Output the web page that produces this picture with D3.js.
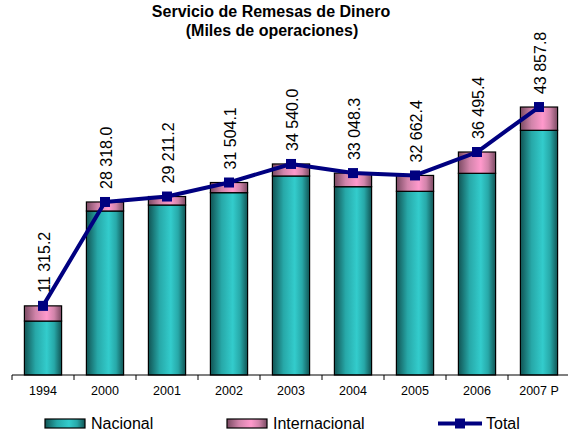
<!DOCTYPE html>
<html>
<head>
<meta charset="utf-8">
<script src="https://cdn.jsdelivr.net/npm/d3@7"></script>
<style>
  html, body { margin: 0; padding: 0; background: #fff; }
  svg { display: block; font-family: Arial, "Liberation Sans", sans-serif; }
</style>
</head>
<body>
<svg id="chart" width="569" height="431"></svg>
<script>
// Remesas de dinero, miles de operaciones
const years = ["1994", "2000", "2001", "2002", "2003", "2004", "2005", "2006", "2007 P"];
const nacional = [8830, 26840, 27820, 29840, 32570, 30820, 30065, 33010, 40049];
const internacional = [2485.2, 1478.0, 1391.2, 1664.1, 1970.0, 2228.3, 2597.4, 3485.4, 3808.8];
const total = [11315.2, 28318.0, 29211.2, 31504.1, 34540.0, 33048.3, 32662.4, 36495.4, 43857.8];
const totalLabels = ["11 315.2", "28 318.0", "29 211.2", "31 504.1", "34 540.0", "33 048.3", "32 662.4", "36 495.4", "43 857.8"];

const svg = d3.select("#chart");
const left = 12, right = 570, baseY = 375, topY = 69.5;

const x = d3.scaleBand().domain(years).range([left, right]).paddingInner(0.4).paddingOuter(0.2);
const xb = d3.scaleBand().domain(years).range([left, right]);
const y = d3.scaleLinear().domain([0, 50000]).range([baseY, topY]);

// horizontal shading for the cylinder-like bars
const defs = svg.append("defs");
function shade(id, dark, mid, light) {
  const g = defs.append("linearGradient").attr("id", id).attr("x1", "0").attr("x2", "1").attr("y1", "0").attr("y2", "0");
  g.append("stop").attr("offset", "0%").attr("stop-color", dark);
  g.append("stop").attr("offset", "30%").attr("stop-color", mid);
  g.append("stop").attr("offset", "60%").attr("stop-color", light);
  g.append("stop").attr("offset", "80%").attr("stop-color", mid);
  g.append("stop").attr("offset", "100%").attr("stop-color", dark);
}
shade("gNac", "#115454", "#27a8a8", "#33cccc");
shade("gInt", "#7a4a62", "#d184aa", "#ff99cc");

const stacked = years.map((yr, i) => ({ yr, nac: nacional[i], int: internacional[i] }));

// title
svg.append("text").attr("x", 271).attr("y", 17).attr("text-anchor", "middle")
  .attr("font-size", 16).attr("font-weight", "bold").text("Servicio de Remesas de Dinero");
svg.append("text").attr("x", 272).attr("y", 36).attr("text-anchor", "middle")
  .attr("font-size", 16).attr("font-weight", "bold").text("(Miles de operaciones)");

// bars
const bars = svg.append("g");
bars.selectAll("rect.nac").data(stacked).join("rect")
  .attr("class", "nac")
  .attr("x", d => x(d.yr)).attr("width", x.bandwidth())
  .attr("y", d => y(d.nac)).attr("height", d => y(0) - y(d.nac))
  .attr("fill", "url(#gNac)").attr("stroke", "#000").attr("stroke-width", 1.2);
bars.selectAll("rect.int").data(stacked).join("rect")
  .attr("class", "int")
  .attr("x", d => x(d.yr)).attr("width", x.bandwidth())
  .attr("y", d => y(d.nac + d.int)).attr("height", d => y(d.nac) - y(d.nac + d.int))
  .attr("fill", "url(#gInt)").attr("stroke", "#000").attr("stroke-width", 1.2);

// category axis
const axis = svg.append("g").attr("transform", `translate(0,${baseY})`);
axis.append("line").attr("x1", left).attr("x2", 568).attr("y1", 0).attr("y2", 0)
  .attr("stroke", "#000").attr("stroke-width", 1);
axis.selectAll("line.tick").data(years).join("line").attr("class", "tick")
  .attr("x1", d => xb(d)).attr("x2", d => xb(d)).attr("y1", 0).attr("y2", 5)
  .attr("stroke", "#000");
axis.selectAll("text").data(years).join("text")
  .attr("x", d => xb(d) + xb.bandwidth() / 2).attr("y", 20)
  .attr("text-anchor", "middle").attr("font-size", 12.5).text(d => d);

// total line
const cx = d => x(d) + x.bandwidth() / 2;
const line = d3.line().x((d, i) => cx(years[i])).y(d => y(d));
svg.append("path").datum(total).attr("d", line)
  .attr("fill", "none").attr("stroke", "#000080").attr("stroke-width", 4).attr("stroke-linejoin", "round");
svg.selectAll("rect.mk").data(total).join("rect").attr("class", "mk")
  .attr("x", (d, i) => cx(years[i]) - 5).attr("y", d => y(d) - 5)
  .attr("width", 10).attr("height", 10).attr("fill", "#000080");

// value labels
svg.selectAll("text.val").data(total).join("text").attr("class", "val")
  .attr("transform", (d, i) => `translate(${cx(years[i]) + 7},${y(d) - 13}) rotate(-90)`)
  .attr("font-size", 16).attr("text-anchor", "start")
  .text((d, i) => totalLabels[i]);

// legend
const lg = svg.append("g");
lg.append("rect").attr("x", 45).attr("y", 419).attr("width", 40).attr("height", 9)
  .attr("fill", "url(#gNac)").attr("stroke", "#000").attr("stroke-width", 1.2);
lg.append("text").attr("x", 91).attr("y", 429).attr("font-size", 16).text("Nacional");
lg.append("rect").attr("x", 227).attr("y", 419).attr("width", 40).attr("height", 9)
  .attr("fill", "url(#gInt)").attr("stroke", "#000").attr("stroke-width", 1.2);
lg.append("text").attr("x", 273).attr("y", 429).attr("font-size", 16).text("Internacional");
lg.append("line").attr("x1", 438).attr("x2", 482).attr("y1", 423.5).attr("y2", 423.5)
  .attr("stroke", "#000080").attr("stroke-width", 4);
lg.append("rect").attr("x", 455).attr("y", 418.5).attr("width", 10).attr("height", 10).attr("fill", "#000080");
lg.append("text").attr("x", 486).attr("y", 429).attr("font-size", 16).text("Total");
</script>
</body>
</html>
